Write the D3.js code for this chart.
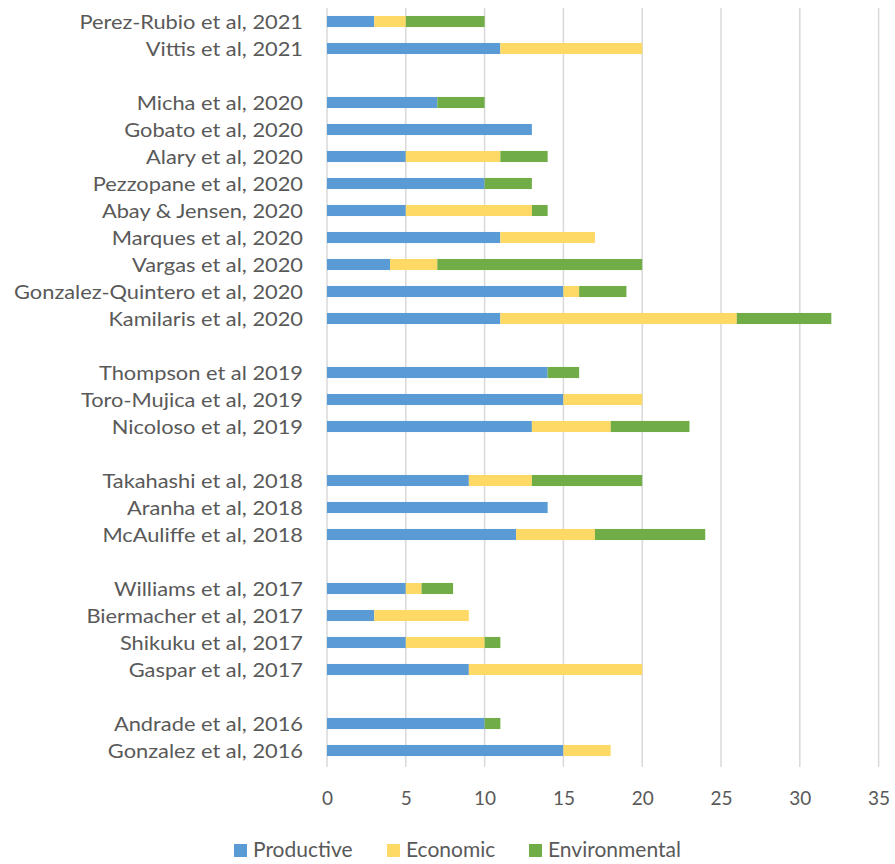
<!DOCTYPE html>
<html>
<head>
<meta charset="utf-8">
<script src="https://cdn.jsdelivr.net/npm/d3@7"></script>
<style>
  html, body { margin: 0; padding: 0; background: #fff; }
  svg text { font-family: Lato, "Open Sans", sans-serif; fill: #595959; }
</style>
</head>
<body>
<svg id="chart" width="895" height="864"></svg>
<script>
// Studies, top to bottom; empty entries are spacer rows between years
const studies = [
  "Perez-Rubio et al, 2021", "Vittis et al, 2021", "",
  "Micha et al, 2020", "Gobato et al, 2020", "Alary et al, 2020",
  "Pezzopane et al, 2020", "Abay & Jensen, 2020", "Marques et al, 2020",
  "Vargas et al, 2020", "Gonzalez-Quintero et al, 2020", "Kamilaris et al, 2020", "",
  "Thompson et al 2019", "Toro-Mujica et al, 2019", "Nicoloso et al, 2019", "",
  "Takahashi et al, 2018", "Aranha et al, 2018", "McAuliffe et al, 2018", "",
  "Williams et al, 2017", "Biermacher et al, 2017", "Shikuku et al, 2017", "Gaspar et al, 2017", "",
  "Andrade et al, 2016", "Gonzalez et al, 2016"
];
const productive = [3, 11, 0, 7, 13, 5, 10, 5, 11, 4, 15, 11, 0, 14, 15, 13, 0, 9, 14, 12, 0, 5, 3, 5, 9, 0, 10, 15];
const economic   = [2, 9, 0, 0, 0, 6, 0, 8, 6, 3, 1, 15, 0, 0, 5, 5, 0, 4, 0, 5, 0, 1, 6, 5, 11, 0, 0, 3];
const environmental = [5, 0, 0, 3, 0, 3, 3, 1, 0, 13, 3, 6, 0, 2, 0, 5, 0, 7, 0, 7, 0, 2, 0, 1, 0, 0, 1, 0];
const seriesNames = ["Productive", "Economic", "Environmental"];
const seriesColors = ["#5B9BD5", "#FFD966", "#70AD47"];
const xTicks = [0, 5, 10, 15, 20, 25, 30, 35];

const rows = studies.map((s, i) => ({
  key: i, label: s,
  Productive: productive[i], Economic: economic[i], Environmental: environmental[i]
}));

const svg = d3.select("#chart");
const plotLeft = 327, plotRight = 878.6, plotTop = 8, plotBottom = 764;

const x = d3.scaleLinear().domain([0, 35]).range([plotLeft, plotRight]);
const y = d3.scaleBand().domain(rows.map(r => r.key)).range([plotTop, plotBottom]).paddingInner(0.59).paddingOuter(0.295);

// vertical gridlines
svg.append("g").selectAll("line").data(xTicks).join("line")
  .attr("x1", d => x(d)).attr("x2", d => x(d))
  .attr("y1", plotTop).attr("y2", plotBottom + 3)
  .attr("stroke", "#d9d9d9").attr("stroke-width", 1.5);

// stacked bars
const stack = d3.stack().keys(seriesNames)(rows);
svg.append("g").selectAll("g").data(stack).join("g")
  .attr("fill", (d, i) => seriesColors[i])
  .selectAll("rect").data(d => d.filter(p => p[1] > p[0])).join("rect")
  .attr("x", d => x(d[0]))
  .attr("width", d => x(d[1]) - x(d[0]))
  .attr("y", d => y(d.data.key))
  .attr("height", y.bandwidth());

// category labels, right-aligned and set slightly wide
const labelG = svg.append("g").attr("transform", "translate(303,0) scale(1.18,1)");
labelG.selectAll("text").data(rows).join("text")
  .attr("x", 0)
  .attr("y", d => y(d.key) + y.bandwidth() / 2 + 7.5)
  .attr("text-anchor", "end")
  .attr("font-size", 18.5)
  .text(d => d.label);

// x axis labels
const xAxis = d3.axisBottom(x).tickValues(xTicks).tickSize(0).tickPadding(0);
const ax = svg.append("g").attr("transform", `translate(0, ${plotBottom})`).call(xAxis);
ax.select(".domain").remove();
ax.selectAll("text")
  .attr("y", 34).attr("dy", "0.35em")
  .attr("font-size", 19)
  .style("font-family", "Lato, 'Open Sans', sans-serif")
  .attr("fill", "#595959");

// legend
const legendX = [234, 387, 529];
const lg = svg.append("g").selectAll("g").data(seriesNames).join("g")
  .attr("transform", (d, i) => `translate(${legendX[i]}, 844)`);
lg.append("rect").attr("x", 0).attr("y", 0).attr("width", 13).attr("height", 13)
  .attr("fill", (d, i) => seriesColors[i]);
lg.append("text").attr("x", 19).attr("y", 12.7).attr("font-size", 21).text(d => d);
</script>
</body>
</html>
